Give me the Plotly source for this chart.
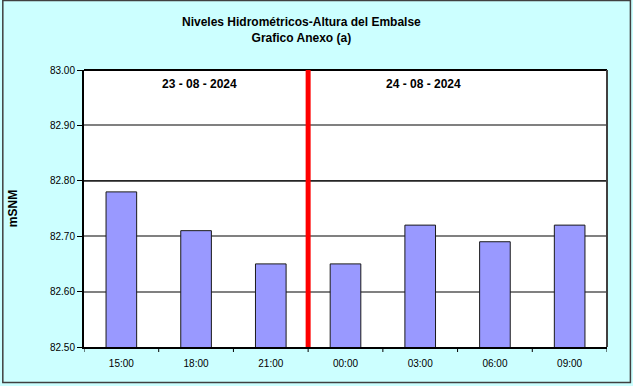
import plotly.graph_objects as go

categories = ["15:00", "18:00", "21:00", "00:00", "03:00", "06:00", "09:00"]
values = [82.78, 82.71, 82.65, 82.65, 82.72, 82.69, 82.72]
y_ticks = [82.50, 82.60, 82.70, 82.80, 82.90, 83.00]
date_labels = ["23 - 08 - 2024", "24 - 08 - 2024"]
day_change_index = 3  # first category of the second day

W, H = 633, 386
L, R, T, B = 82, 26, 70, 39
pw, ph = W - L - R, H - T - B

fig = go.Figure()
fig.add_trace(go.Bar(
    x=list(range(len(categories))), y=values,
    width=0.41,
    marker=dict(color="#9999FF", line=dict(color="#1a1a1a", width=1)),
    showlegend=False, hoverinfo="x+y",
))

font = "Liberation Sans, Arial, sans-serif"

fig.update_layout(
    width=W, height=H,
    margin=dict(l=L, r=R, t=T, b=B, pad=0),
    paper_bgcolor="#CCFFFF",
    plot_bgcolor="#FFFFFF",
    font=dict(family=font, size=11, color="#000000"),
    xaxis=dict(
        range=[-0.5, len(categories) - 0.5],
        tickvals=list(range(len(categories))),
        ticktext=categories,
        showgrid=False,
        showline=True, linecolor="#000000", linewidth=2,
        ticks="", tickfont=dict(size=10), ticklabelstandoff=6,
        zeroline=False,
    ),
    yaxis=dict(
        range=[y_ticks[0], y_ticks[-1]],
        tickvals=y_ticks,
        ticktext=[f"{v:.2f}" for v in y_ticks],
        showgrid=True, gridcolor="#808080", gridwidth=2,
        showline=True, linecolor="#000000", linewidth=2,
        ticks="outside", ticklen=5, tickcolor="#000000",
        tickfont=dict(size=10),
        zeroline=False,
        title=dict(text="<b>mSNM</b>", font=dict(size=12), standoff=30),
    ),
)

# x category boundary ticks
for i in range(len(categories) + 1):
    fig.add_shape(type="line", xref="x", yref="paper",
                  x0=i - 0.5, x1=i - 0.5, y0=0, y1=-5 / ph,
                  line=dict(color="#000000", width=1))

# black gridline at 82.80
fig.add_shape(type="line", xref="paper", yref="y", x0=0, x1=1,
              y0=y_ticks[3], y1=y_ticks[3], line=dict(color="#000000", width=1))

# right/top plot frame
fig.add_shape(type="line", xref="paper", yref="paper", x0=0, x1=1, y0=1, y1=1,
              line=dict(color="#000000", width=2))
fig.add_shape(type="line", xref="paper", yref="paper", x0=1, x1=1, y0=0, y1=1,
              line=dict(color="#404040", width=2))

# red day divider
fig.add_shape(type="line", xref="x", yref="paper",
              x0=day_change_index - 0.5, x1=day_change_index - 0.5, y0=0, y1=1,
              line=dict(color="#FF0000", width=5))

# outer border
fig.add_shape(type="rect", xref="paper", yref="paper",
              x0=(0.5 - L) / pw, x1=(W - 2.5 - L) / pw,
              y0=-(B - 3.5) / ph, y1=1 + (T - 0.5) / ph,
              line=dict(color="#404040", width=1.5), fillcolor="rgba(0,0,0,0)")

# date annotations
fig.add_annotation(x=1, y=83.0, xref="x", yref="y", yshift=-14,
                   text=f"<b>{date_labels[0]}</b>", showarrow=False,
                   font=dict(size=12), xshift=3)
fig.add_annotation(x=4, y=83.0, xref="x", yref="y", yshift=-14,
                   text=f"<b>{date_labels[1]}</b>", showarrow=False,
                   font=dict(size=12), xshift=3)

# title
fig.add_annotation(x=(300 - L) / pw, y=1 + (T - 30) / ph, xref="paper", yref="paper",
                   text="<b>Niveles Hidrométricos-Altura del Embalse</b><br><b>Grafico Anexo (a)</b>",
                   showarrow=False, font=dict(size=12), align="center",
                   xanchor="center", yanchor="middle")

fig.write_html("out.html", config={"displayModeBar": False},
               post_script="document.body.style.margin='0';document.body.style.overflow='hidden';")
